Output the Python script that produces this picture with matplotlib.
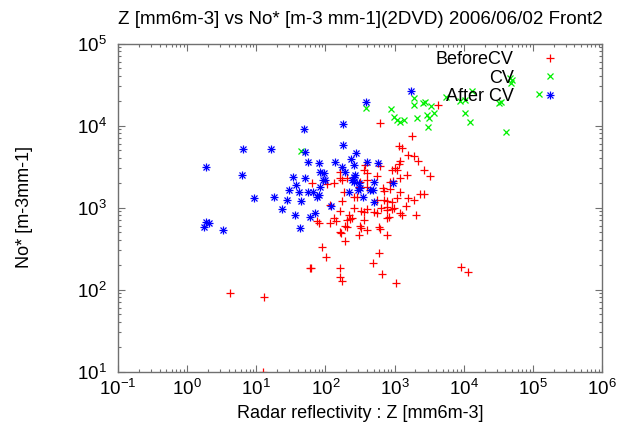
import numpy as np
import matplotlib
matplotlib.use('Agg')
import matplotlib.pyplot as plt
from matplotlib.lines import Line2D
from matplotlib.legend_handler import HandlerTuple

plt.rcParams['font.family'] = ['Liberation Sans', 'DejaVu Sans']
plt.rcParams['mathtext.default'] = 'regular'

# BeforeCV : Z [mm6m-3], No* [m-3 mm-1]
before_z = [621, 1783, 1142, 1279, 1552, 1880, 2148, 1208, 1169, 1023,
            917, 1094, 2685, 3205, 621, 368, 356, 399, 549, 1490,
            1208, 858, 957, 399, 399, 680, 693, 866, 1208, 1541,
            1926, 2297, 2685, 255, 286, 175, 557, 698, 776, 917,
            1094, 1476, 917, 776, 631, 327, 356, 403, 164, 1208,
            1279, 2057, 819, 776, 497, 557, 216, 229, 242, 205,
            131, 118, 144, 75.1, 79.8, 356, 205, 194, 314, 325,
            394, 587, 611, 164, 170, 304, 776, 189, 88.1, 102,
            587, 484, 59.1, 61.9, 164, 653, 160, 173, 1058, 9200,
            11350, 4.22, 13.1, 12.6, 4236, 105, 131, 64, 160, 205,
            319, 302, 183, 118, 164, 174, 255, 776, 967]
before_n = [10580, 7447, 5577, 5270, 4404, 4271, 3721, 3711, 3392, 3006,
            2867, 2891, 2867, 2422, 3180, 3253, 2867, 2612, 2456, 2491,
            2270, 2064, 2104, 2165, 1793, 1715, 1603, 1681, 1567, 1295,
            1245, 1461, 1453, 1354, 1343, 1217, 1235, 1235, 1200, 1177,
            1306, 1043, 951, 932, 1000, 914, 889, 951, 914, 850,
            810, 810, 772, 738, 889, 850, 810, 718, 738, 704,
            738, 641, 675, 675, 653, 704, 586, 603, 590, 558,
            531, 583, 550, 507, 485, 462, 462, 390, 333, 251,
            276, 209, 184.5, 184.5, 183, 154.5, 144, 127, 119, 186.6,
            165, 91.4, 80.3, 10, 17780, 1934, 1973, 1973, 2733, 2270,
            2064, 1793, 1560, 1073, 2290, 2165, 981, 1023, 981]

# CV
cv_z = [44.8, 386, 896, 1880, 1880, 2537, 2775, 3390, 967, 1083,
        1208, 1349, 2107, 2938, 3098, 3660, 3017, 5585, 8900, 10500,
        13270, 10330, 12410, 32580, 34200, 40700, 47000, 48550, 49300, 123300]
cv_n = [4930, 16210, 15890, 21460, 17780, 18650, 19500, 17290, 12590, 11670,
        11130, 11670, 12240, 13430, 12240, 14090, 9720, 22260, 19900, 20460,
        26340, 14400, 10880, 18810, 19500, 8330, 37630, 32710, 35890, 24220]

# After CV
after_z = [49.1, 181, 181, 279, 6.44, 16.5, 50.1, 1.88, 56.6, 81.6,
           139, 233, 399, 568, 6.23, 34.0, 51.2, 84.4, 94.2, 91.1,
           99.6, 174, 194, 255, 270, 255, 37.9, 29.4, 42.0, 56.0,
           66.2, 84.4, 79.8, 75.6, 9.39, 17.8, 28.1, 44.4, 23.6, 36.7,
           69.8, 60.5, 43.4, 1.90, 2.07, 1.75, 3.29, 122, 216, 242,
           255, 309, 319, 294, 497, 487, 445, 353, 497, 942,
           386, 1742]
after_n = [9140, 10340, 5780, 4620, 5240, 5240, 4710, 3090, 3540, 3460,
           3620, 3900, 3620, 3460, 2470, 2375, 2270, 2730, 2610, 2165,
           2165, 3145, 2730, 3300, 2490, 2375, 1880, 1635, 1560, 1560,
           1560, 1790, 1420, 1330, 1316, 1343, 1235, 1210, 959, 803,
           845, 772, 567, 671, 647, 583, 539, 1043, 1524, 2165,
           2064, 1973, 1715, 1635, 2064, 1635, 1635, 1330, 1177, 2006,
           19500, 26340]

fig = plt.figure(figsize=(6.21, 4.29), dpi=100)
ax = fig.add_axes([118 / 621, 1 - 371.5 / 429, 484 / 621, 328 / 429])

ms = 5.5
mew = 0.9
ax.plot(before_z, before_n, ls='none', marker='+', color='#ff0000', ms=ms, mew=mew)
ax.plot(cv_z, cv_n, ls='none', marker='x', color='#00f000', ms=ms * 0.9, mew=mew)
ax.plot(after_z, after_n, ls='none', marker='+', color='#0000ff', ms=ms, mew=mew)
ax.plot(after_z, after_n, ls='none', marker='x', color='#0000ff', ms=ms * 0.8, mew=mew)

ax.set_xscale('log')
ax.set_yscale('log')
ax.set_xlim(1e-1, 1e6)
ax.set_ylim(1e1, 1e5)
ax.set_xticks([10.0 ** k for k in range(-1, 7)])
ax.set_yticks([10.0 ** k for k in range(1, 6)])

for s in ax.spines.values():
    s.set_color('#707070')
    s.set_linewidth(1.0)
ax.tick_params(which='both', direction='in', top=True, right=True, color='#707070')
ax.tick_params(which='major', length=5, width=0.8, labelsize=13.5)
ax.tick_params(axis='x', which='major', pad=5)
ax.tick_params(axis='y', which='major', pad=8)
ax.tick_params(which='minor', length=2.5, width=0.8)

ax.set_title('Z [mm6m-3] vs No* [m-3 mm-1](2DVD) 2006/06/02 Front2', fontsize=13.5, pad=14)
ax.set_xlabel('Radar reflectivity : Z [mm6m-3]', fontsize=13, labelpad=5)
ax.set_ylabel('No* [m-3mm-1]', fontsize=13, labelpad=32)

h_before = Line2D([], [], ls='none', marker='+', color='#ff0000', ms=ms, mew=mew)
h_cv = Line2D([], [], ls='none', marker='x', color='#00f000', ms=ms * 0.9, mew=mew)
h_a1 = Line2D([], [], ls='none', marker='+', color='#0000ff', ms=ms, mew=mew)
h_a2 = Line2D([], [], ls='none', marker='x', color='#0000ff', ms=ms * 0.8, mew=mew)
ax.legend([h_before, h_cv, (h_a1, h_a2)], ['BeforeCV', 'CV', 'After CV'],
          handler_map={tuple: HandlerTuple(ndivide=1)},
          loc='upper right', bbox_to_anchor=(0.911, 0.976), markerfirst=False,
          frameon=False, fontsize=13, numpoints=1, handlelength=1.0,
          handletextpad=1.5, labelspacing=0.08, borderpad=0, borderaxespad=0)

fig.savefig('out.png', dpi=100)
